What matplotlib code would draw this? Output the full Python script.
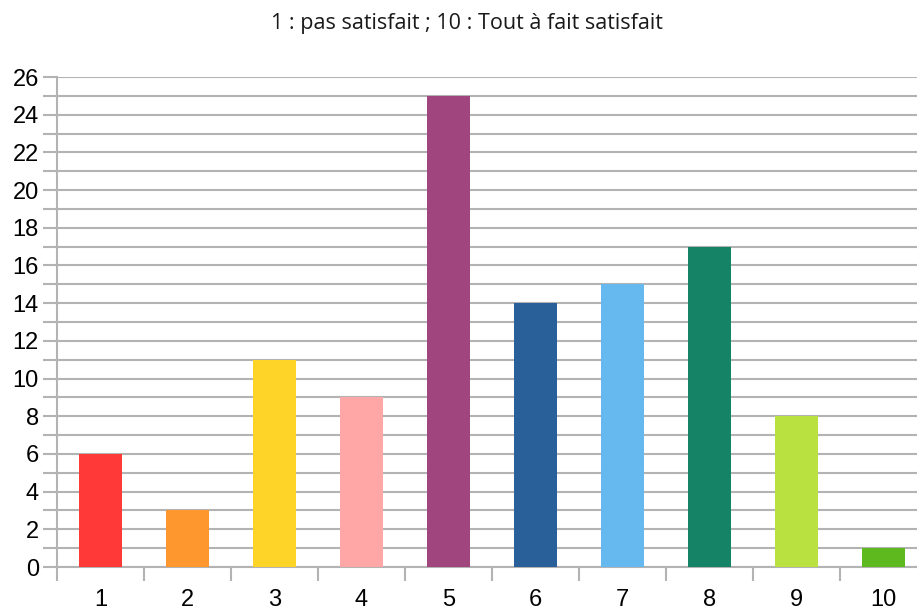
import numpy as np
import matplotlib
matplotlib.use("Agg")
import matplotlib.pyplot as plt

# ============================================================
# Data
# ============================================================
categories = ["1", "2", "3", "4", "5", "6", "7", "8", "9", "10"]
counts = [6, 3, 11, 9, 25, 14, 15, 17, 8, 1]
bar_colors = ["#FF3838", "#FF972F", "#FFD428", "#FFA6A6", "#A0457E",
              "#2A6099", "#66B9EE", "#158466", "#B9E13F", "#5EB91E"]
title = "1 : pas satisfait ; 10 : Tout à fait satisfait"

plt.rcParams['font.family'] = ['Liberation Sans', 'DejaVu Sans']

fig = plt.figure(figsize=(9.17, 6.10), dpi=100)
# plot area runs slightly past the right edge of the image, as in the original
ax = fig.add_axes([57 / 917, 43 / 610, 870 / 917, 490 / 610])

x = np.arange(len(categories))
ax.bar(x, counts, width=0.5, color=bar_colors, zorder=3)

grid_c = "#b3b3b3"
ax.set_xlim(-0.5, len(categories) - 0.5)
ax.set_ylim(0, 26)
ax.set_yticks(np.arange(0, 27, 2))
ax.set_yticks(np.arange(1, 26, 2), minor=True)
ax.grid(axis="y", which="both", color=grid_c, linewidth=1.5, zorder=0)

# category labels centred, tick marks on boundaries
ax.set_xticks(x)
ax.set_xticklabels(categories)
ax.set_xticks(np.arange(-0.5, len(categories), 1), minor=True)
ax.tick_params(axis="x", which="major", length=0, labelsize=17, pad=16)
ax.tick_params(axis="x", which="minor", length=10, width=1.5, color=grid_c)
ax.tick_params(axis="y", which="both", length=10, width=1.5, color=grid_c,
               labelsize=17, pad=3)

for s in ["top", "right"]:
    ax.spines[s].set_visible(False)
for s in ["left", "bottom"]:
    ax.spines[s].set_color(grid_c)
    ax.spines[s].set_linewidth(1.5)

fig.text(467 / 917, 1 - 23 / 610, title, ha="center", va="center",
         fontsize=15.5, family=["Open Sans", "DejaVu Sans"], color="#1a1a1a")

fig.savefig("out.png", dpi=100)
